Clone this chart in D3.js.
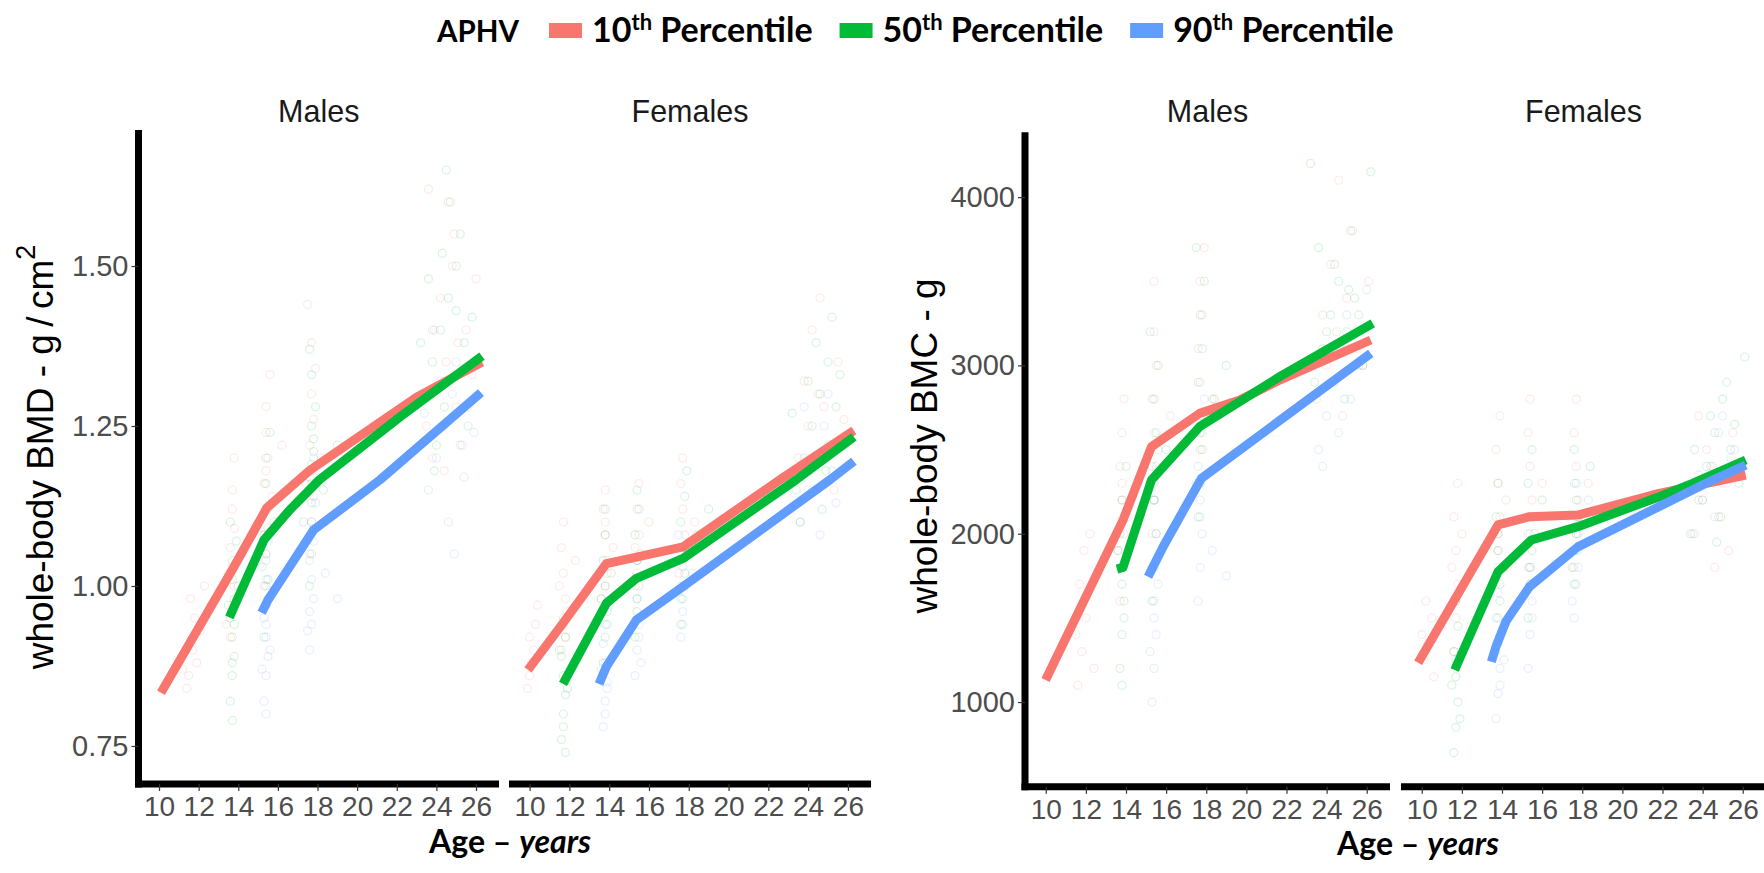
<!DOCTYPE html>
<html><head><meta charset="utf-8">
<script src="https://cdn.jsdelivr.net/npm/d3@7"></script>
<style>
body{margin:0;background:#fff;}
svg{display:block;}
</style></head><body>
<svg id="c" width="1764" height="873"></svg>
<script>
// ---------------- DATA ----------------
const legendTitle = "APHV";
const percentiles = ["10", "50", "90"];
const panelLabels = ["Males", "Females"];
const xTicks = [10, 12, 14, 16, 18, 20, 22, 24, 26];
const bmdTicks = [0.75, 1.00, 1.25, 1.50];
const bmcTicks = [1000, 2000, 3000, 4000];

// model lines [age, value]
const bmdMaleLine10 = [[10.1,0.833],[13.75,1.028],[15.44,1.122],[17.62,1.181],[23.0,1.295],[26.3,1.350]];
const bmdMaleLine50 = [[13.55,0.951],[14.4,1.010],[15.3,1.072],[16.6,1.119],[18.1,1.166],[22.2,1.265],[26.3,1.359]];
const bmdMaleLine90 = [[15.18,0.958],[15.5,0.978],[15.94,0.999],[17.8,1.0875],[21.16,1.166],[26.25,1.302]];
const bmdFemaleLine10 = [[9.92,0.869],[11.68,0.942],[13.86,1.035],[15.37,1.045],[17.71,1.061],[22.58,1.166],[26.3,1.243]];
const bmdFemaleLine50 = [[11.68,0.847],[13.86,0.973],[15.37,1.012],[17.71,1.043],[23.4,1.166],[26.3,1.233]];
const bmdFemaleLine90 = [[13.49,0.847],[13.86,0.874],[15.37,0.947],[17.71,0.999],[25.1,1.166],[26.3,1.195]];
const bmcMaleLine10 = [[9.99,1131],[13.85,2081],[15.27,2517],[17.67,2715],[19.67,2794],[21.66,2913],[26.2,3151]];
const bmcMaleLine50 = [[13.55,1790],[13.85,1800],[15.27,2319],[17.67,2636],[21.66,2933],[26.3,3250]];
const bmcMaleLine90 = [[15.1,1744],[15.85,1923],[17.76,2329],[26.2,3072]];
const bmcFemaleLine10 = [[9.82,1233],[13.8,2052],[15.37,2101],[17.78,2111],[21.84,2240],[26.15,2349]];
const bmcFemaleLine50 = [[11.64,1190],[13.8,1774],[15.46,1963],[17.78,2042],[21.84,2220],[23.5,2299],[26.15,2438]];
const bmcFemaleLine90 = [[13.47,1239],[13.7,1330],[14.2,1480],[15.37,1685],[17.78,1922],[24.5,2319],[26.15,2408]];

// observed points [age, value]
const bmdMaleScatter10 = [[11.5,0.86],[11.7,0.90],[11.8,0.95],[11.6,0.98],[11.9,0.88],[12.1,0.93],[11.4,0.84],[12.3,1.00],[11.2,0.87],[12.6,0.97],
 [13.6,0.92],[13.7,0.96],[13.8,1.00],[13.7,1.03],[13.6,1.06],[13.8,1.09],[13.7,1.12],[13.9,0.98],[13.5,1.02],[13.7,1.15],[13.8,1.20],[14.2,1.05],[13.4,0.94],
 [15.3,1.00],[15.4,1.05],[15.5,1.09],[15.4,1.12],[15.3,1.16],[15.5,1.20],[15.4,1.24],[15.4,1.28],[15.6,1.33],[15.2,1.08],[15.4,1.18],[15.7,1.14],[16.2,1.22],
 [17.6,1.05],[17.7,1.10],[17.8,1.14],[17.7,1.18],[17.6,1.22],[17.8,1.26],[17.7,1.30],[17.9,1.34],[17.7,1.38],[17.5,1.44],[18.2,1.20],[17.4,1.16],
 [23.5,1.25],[24.0,1.30],[24.5,1.35],[25.0,1.28],[25.5,1.40],[24.2,1.45],[24.8,1.50],[23.8,1.20],[25.3,1.22],[26.0,1.48],[24.6,1.60],[23.6,1.62],[25.8,1.33],[24.4,1.18],[25.1,1.38],[24.9,1.55],[23.9,1.40]];
const bmdMaleScatter50 = [[13.6,0.82],[13.7,0.86],[13.8,0.89],[13.7,0.92],[13.6,0.95],[13.8,0.98],[13.7,1.01],[13.7,1.04],[13.9,1.07],[13.6,1.10],[13.7,0.88],[13.8,0.94],[14.0,1.00],[13.5,0.97],[13.7,0.79],
 [15.3,0.92],[15.4,0.97],[15.5,1.01],[15.4,1.05],[15.3,1.08],[15.5,1.12],[15.4,1.16],[15.4,1.20],[15.6,1.24],[15.2,1.03],[15.8,1.10],[15.4,1.00],[16.5,1.15],
 [17.6,1.00],[17.7,1.05],[17.8,1.09],[17.7,1.13],[17.6,1.17],[17.8,1.21],[17.7,1.25],[17.9,1.28],[17.7,1.33],[17.6,1.37],[18.3,1.15],[19.0,1.22],[17.3,1.10],[17.7,1.19],[17.8,1.23],
 [23.4,1.30],[23.8,1.35],[24.2,1.40],[24.6,1.45],[25.0,1.50],[25.4,1.38],[25.8,1.42],[24.4,1.28],[24.9,1.33],[23.6,1.48],[25.2,1.55],[24.0,1.22],[25.6,1.25],[24.7,1.60],[23.2,1.38],[26.1,1.35],[24.3,1.52],[25.0,1.43],[23.9,1.18],[24.5,1.65]];
const bmdMaleScatter90 = [[15.3,0.82],[15.4,0.86],[15.5,0.89],[15.4,0.92],[15.3,0.95],[15.5,0.98],[15.4,1.01],[15.4,1.04],[15.6,0.90],[15.2,0.87],[15.4,0.80],[15.5,1.07],[15.4,0.94],
 [17.6,0.90],[17.7,0.94],[17.8,0.98],[17.7,1.01],[17.6,1.04],[17.8,1.07],[17.7,1.10],[17.9,1.13],[17.7,1.16],[17.6,0.96],[18.4,1.02],[19.0,0.98],[17.5,0.93],[17.8,1.20],
 [23.6,1.15],[24.0,1.20],[24.4,1.25],[24.8,1.30],[25.2,1.22],[25.6,1.28],[24.6,1.10],[25.0,1.35],[23.8,1.40],[25.4,1.17],[24.2,1.32],[25.9,1.24],[24.9,1.05],[23.4,1.27]];
const bmdFemaleScatter10 = [[10.0,0.86],[10.2,0.90],[10.3,0.94],[10.1,0.88],[10.4,0.97],[10.0,0.92],[9.9,0.84],
 [11.6,0.90],[11.7,0.94],[11.8,0.98],[11.7,1.02],[11.6,1.06],[11.8,0.92],[11.7,1.10],[11.9,0.96],[12.3,1.04],[11.5,1.00],
 [13.7,0.96],[13.8,1.00],[13.9,1.04],[13.8,1.08],[13.7,1.12],[13.8,1.15],[13.9,1.02],[13.8,1.10],[14.2,1.06],[13.6,0.98],
 [15.3,1.00],[15.4,1.04],[15.5,1.08],[15.4,1.12],[15.3,1.06],[15.5,1.16],[15.4,1.02],[16.0,1.10],
 [17.6,1.00],[17.7,1.04],[17.8,1.08],[17.7,1.12],[17.6,1.16],[17.8,1.06],[17.7,1.20],[18.3,1.10],[17.5,1.02],
 [23.5,1.20],[24.0,1.25],[24.5,1.30],[25.0,1.22],[25.5,1.35],[24.2,1.40],[24.8,1.28],[25.3,1.15],[23.8,1.32],[24.6,1.45],[25.8,1.26]];
const bmdFemaleScatter50 = [[11.6,0.76],[11.7,0.80],[11.8,0.83],[11.7,0.86],[11.6,0.89],[11.8,0.92],[11.7,0.95],[11.9,0.84],[11.7,0.78],[11.5,0.90],[11.8,0.74],
 [13.7,0.88],[13.8,0.92],[13.9,0.96],[13.8,1.00],[13.7,1.04],[13.8,1.08],[13.9,0.94],[13.8,1.12],[13.6,0.98],[14.1,1.02],
 [15.3,0.92],[15.4,0.96],[15.5,1.00],[15.4,1.04],[15.3,1.08],[15.5,1.12],[15.4,0.98],[15.6,1.05],[15.4,1.15],[16.0,1.02],
 [17.6,0.94],[17.7,0.98],[17.8,1.02],[17.7,1.06],[17.6,1.10],[17.8,1.14],[17.7,1.00],[17.9,1.18],[18.4,1.08],[17.5,1.04],[19.0,1.12],
 [23.4,1.15],[23.8,1.20],[24.2,1.25],[24.6,1.30],[25.0,1.35],[25.4,1.28],[25.8,1.22],[24.4,1.38],[24.9,1.18],[23.6,1.10],[25.2,1.42],[24.0,1.32],[25.6,1.33],[24.7,1.12],[23.2,1.27]];
const bmdFemaleScatter90 = [[13.7,0.78],[13.8,0.82],[13.9,0.85],[13.8,0.88],[13.7,0.91],[13.8,0.94],[13.9,0.84],[13.8,0.80],[13.6,0.87],[14.0,0.97],
 [15.3,0.86],[15.4,0.90],[15.5,0.94],[15.4,0.98],[15.3,1.01],[15.5,0.92],[15.4,1.04],[15.6,0.88],
 [17.6,0.92],[17.7,0.96],[17.8,1.00],[17.7,1.03],[17.6,0.98],[17.8,1.06],[17.7,0.94],[18.2,1.02],[17.5,1.08],
 [23.6,1.10],[24.0,1.15],[24.4,1.20],[24.8,1.25],[25.2,1.18],[25.6,1.22],[24.6,1.08],[25.0,1.30],[23.8,1.28],[25.4,1.13]];
const bmcMaleScatter10 = [[11.6,1100],[11.8,1300],[12.0,1500],[11.7,1700],[11.9,1900],[12.2,2000],[11.5,1400],[12.4,1200],
 [13.7,1600],[13.8,1800],[13.9,2000],[13.8,2200],[13.7,2400],[13.8,2600],[13.9,2800],[13.8,2300],[14.1,2100],[13.6,1900],
 [15.3,2000],[15.4,2200],[15.5,2400],[15.4,2600],[15.3,2800],[15.5,3000],[15.4,3200],[15.4,3500],[15.6,2500],[16.2,2700],[15.2,2300],
 [17.6,2300],[17.7,2500],[17.8,2700],[17.7,2900],[17.6,3100],[17.8,3300],[17.7,3500],[17.9,3700],[18.3,2800],[17.5,2600],
 [23.5,2800],[24.0,3000],[24.5,3200],[25.0,3400],[25.5,3100],[24.2,3600],[24.8,2700],[25.3,3800],[23.8,3300],[24.6,4100],[25.8,3000],[26.1,3500]];
const bmcMaleScatter50 = [[13.7,1200],[13.8,1400],[13.9,1600],[13.8,1800],[13.7,2000],[13.8,2200],[13.9,1500],[13.8,1700],[13.6,1900],[13.8,1100],[14.0,2400],
 [15.3,1600],[15.4,1800],[15.5,2000],[15.4,2200],[15.3,2400],[15.5,2600],[15.4,2800],[15.6,3000],[15.4,2300],[16.0,2500],[15.2,3200],
 [17.6,2100],[17.7,2300],[17.8,2500],[17.7,2700],[17.6,2900],[17.8,3100],[17.7,3300],[17.9,3500],[17.7,2600],[18.4,2800],[19.0,3000],[17.5,3700],
 [23.4,2900],[23.8,3100],[24.2,3300],[24.6,3500],[25.0,3200],[25.4,3400],[25.8,3000],[24.4,3600],[24.9,2800],[23.6,3700],[25.2,3800],[24.0,3200],[25.6,3300],[24.7,3100],[26.2,4150],[23.2,4200],[25.1,3450]];
const bmcMaleScatter90 = [[15.3,1000],[15.4,1200],[15.5,1400],[15.4,1600],[15.3,1800],[15.5,2000],[15.4,1500],[15.6,1700],[15.4,2200],[15.2,1300],
 [17.6,1600],[17.7,1800],[17.8,2000],[17.7,2200],[17.6,2400],[17.8,2600],[17.7,2100],[18.3,1900],[17.5,2300],[19.0,1750],[17.9,2800],
 [23.6,2500],[24.0,2700],[24.4,2900],[24.8,3100],[25.2,2800],[25.6,3000],[24.6,2600],[25.0,3300],[23.8,2400],[25.4,3200],[26.0,3450]];
const bmcFemaleScatter10 = [[10.1,1250],[10.3,1350],[10.5,1500],[10.2,1600],[10.6,1150],[10.0,1400],
 [11.6,1300],[11.7,1500],[11.8,1700],[11.7,1900],[11.6,2100],[11.8,2300],[11.7,1600],[12.0,2000],[11.5,1800],
 [13.7,1700],[13.8,1900],[13.9,2100],[13.8,2300],[13.7,2500],[13.8,2000],[13.9,2700],[14.2,2200],
 [15.3,1800],[15.4,2000],[15.5,2200],[15.4,2400],[15.3,2600],[15.5,2100],[15.4,2800],[16.0,2300],
 [17.6,1800],[17.7,2000],[17.8,2200],[17.7,2400],[17.6,2600],[17.8,2100],[17.7,2800],[18.3,2300],
 [23.5,2000],[24.0,2200],[24.5,2400],[25.0,2300],[25.5,2600],[24.2,2500],[24.8,2100],[25.3,1900],[23.8,2700],[24.6,1800],[25.8,2350]];
const bmcFemaleScatter50 = [[11.6,700],[11.7,850],[11.8,1000],[11.7,1150],[11.6,1300],[11.8,1450],[11.7,1600],[11.9,900],[11.7,1250],[11.5,1100],
 [13.7,1300],[13.8,1500],[13.9,1700],[13.8,1900],[13.7,2100],[13.8,2300],[13.9,1600],[13.8,2000],[14.1,1800],
 [15.3,1500],[15.4,1700],[15.5,1900],[15.4,2100],[15.3,2300],[15.5,2500],[15.4,1800],[15.6,2000],[16.0,2200],
 [17.6,1700],[17.7,1900],[17.8,2100],[17.7,2300],[17.6,2500],[17.8,2000],[17.7,2200],[18.4,2400],[19.0,2100],[17.5,1800],
 [23.4,2000],[23.8,2200],[24.2,2400],[24.6,2600],[25.0,2800],[25.4,2500],[25.8,2300],[24.4,2700],[24.9,2100],[23.6,2500],[25.2,2900],[24.0,2300],[25.6,2650],[26.1,3050],[24.7,1950]];
const bmcFemaleScatter90 = [[13.7,900],[13.8,1050],[13.9,1200],[13.8,1350],[13.7,1500],[13.8,1650],[13.9,1100],[13.8,1800],[14.1,1250],
 [15.3,1200],[15.4,1400],[15.5,1600],[15.4,1800],[15.3,2000],[15.5,1500],[15.4,1700],[15.6,2100],
 [17.6,1500],[17.7,1700],[17.8,1900],[17.7,2100],[17.6,2300],[17.8,1800],[17.7,2000],[18.3,2200],[17.5,1600],
 [23.6,2000],[24.0,2200],[24.4,2400],[24.8,2600],[25.2,2300],[25.6,2500],[24.6,2100],[25.0,2700],[23.8,2350],[25.4,2450]];

// ---------------- DRAWING ----------------
const colors = {"10": "#F8766D", "50": "#00BA38", "90": "#619CFF"};
const svg = d3.select("#c");
const tickFont = "'Liberation Sans', Arial, sans-serif";
const boldFont = "Lato, 'Open Sans', sans-serif";

const plots = [
  {
    yDomain: [0.6906, 1.7125], yRange: [784, 130], ticks: bmdTicks, fmt: d3.format(".2f"),
    panels: [
      {x0: 138.5, x1: 499, lines: [bmdMaleLine10, bmdMaleLine50, bmdMaleLine90], pts: [bmdMaleScatter10, bmdMaleScatter50, bmdMaleScatter90]},
      {x0: 509, x1: 871, lines: [bmdFemaleLine10, bmdFemaleLine50, bmdFemaleLine90], pts: [bmdFemaleScatter10, bmdFemaleScatter50, bmdFemaleScatter90]}
    ],
    titleX: 53, titleY: 457, ySup: true, xTitleX: 510, xTitleY: 853
  },
  {
    yDomain: [497, 4385], yRange: [786.7, 132.3], ticks: bmcTicks, fmt: d3.format("d"),
    panels: [
      {x0: 1025, x1: 1390, lines: [bmcMaleLine10, bmcMaleLine50, bmcMaleLine90], pts: [bmcMaleScatter10, bmcMaleScatter50, bmcMaleScatter90]},
      {x0: 1401, x1: 1766, lines: [bmcFemaleLine10, bmcFemaleLine50, bmcFemaleLine90], pts: [bmcFemaleScatter10, bmcFemaleScatter50, bmcFemaleScatter90]}
    ],
    titleX: 937, titleY: 446, ySup: false, xTitleX: 1418, xTitleY: 855
  }
];

plots.forEach((p, pi) => {
  const y = d3.scaleLinear().domain(p.yDomain).range(p.yRange);
  const yBottom = p.yRange[0];
  p.panels.forEach((pan, k) => {
    const x = d3.scaleLinear().domain([8.965, 27.16]).range([pan.x0, pan.x1]);
    const g = svg.append("g");
    pan.pts.forEach((arr, ci) => {
      g.append("g").selectAll("circle").data(arr).join("circle")
        .attr("cx", d => x(d[0])).attr("cy", d => y(d[1])).attr("r", 4)
        .attr("fill", "none").attr("stroke", colors[percentiles[ci]])
        .attr("stroke-opacity", 0.16).attr("stroke-width", 1.2);
    });
    const line = d3.line().x(d => x(d[0])).y(d => y(d[1]));
    pan.lines.forEach((arr, ci) => {
      g.append("path").datum(arr).attr("d", line)
        .attr("fill", "none").attr("stroke", colors[percentiles[ci]])
        .attr("stroke-width", 9).attr("stroke-linejoin", "round").attr("stroke-linecap", "butt");
    });
    svg.append("line")
      .attr("x1", k === 0 ? pan.x0 - 3.5 : pan.x0).attr("x2", pan.x1)
      .attr("y1", yBottom).attr("y2", yBottom)
      .attr("stroke", "#000").attr("stroke-width", 7);
    const xa = svg.append("g").attr("transform", `translate(0,${yBottom})`)
      .call(d3.axisBottom(x).tickValues(xTicks).tickSize(7).tickPadding(5).tickSizeOuter(0));
    xa.select(".domain").remove();
    xa.selectAll(".tick line").attr("stroke", "#333").attr("stroke-width", 1.2);
    xa.selectAll(".tick text").attr("fill", "#4D4D4D").style("font-family", tickFont).style("font-size", "28px");
    svg.append("text").attr("x", (pan.x0 + pan.x1) / 2).attr("y", 122)
      .attr("text-anchor", "middle").attr("fill", "#1A1A1A")
      .style("font-family", tickFont).style("font-size", "30.5px").text(panelLabels[k]);
    if (k === 0) {
      svg.append("line").attr("x1", pan.x0).attr("x2", pan.x0)
        .attr("y1", p.yRange[1]).attr("y2", yBottom + 3.5)
        .attr("stroke", "#000").attr("stroke-width", 7);
      const ya = svg.append("g").attr("transform", `translate(${pan.x0},0)`)
        .call(d3.axisLeft(y).tickValues(p.ticks).tickFormat(p.fmt).tickSize(7).tickPadding(3).tickSizeOuter(0));
      ya.select(".domain").remove();
      ya.selectAll(".tick line").attr("stroke", "#333").attr("stroke-width", 1.2);
      ya.selectAll(".tick text").attr("fill", "#4D4D4D").style("font-family", tickFont).style("font-size", "29px");
    }
  });
  const yt = svg.append("text").attr("transform", `translate(${p.titleX},${p.titleY}) rotate(-90)`)
    .attr("text-anchor", "middle").attr("fill", "#000")
    .style("font-family", tickFont).style("font-size", "37px");
  if (p.ySup) {
    yt.append("tspan").text("whole-body BMD - g\u2009/\u2009cm");
    yt.append("tspan").attr("dy", -18).style("font-size", "27px").text("2");
  } else {
    yt.text("whole-body BMC - g");
  }
  const xt = svg.append("text").attr("x", p.xTitleX).attr("y", p.xTitleY)
    .attr("text-anchor", "middle").attr("fill", "#000")
    .style("font-family", boldFont).style("font-weight", 700).style("font-size", "32px");
  xt.append("tspan").text("Age \u2013 ");
  xt.append("tspan").style("font-style", "italic").text("years");
});

// ---------------- LEGEND ----------------
const lg = svg.append("g");
const legFs = 34;
lg.append("text").attr("x", 437).attr("y", 42).attr("fill", "#000")
  .style("font-family", boldFont).style("font-weight", 700).style("font-size", "29.5px").text(legendTitle);
let cx = 549;
percentiles.forEach(pc => {
  lg.append("rect").attr("x", cx).attr("y", 23).attr("width", 33).attr("height", 15).attr("fill", colors[pc]);
  const t = lg.append("text").attr("x", cx + 43).attr("y", 42).attr("fill", "#000")
    .style("font-family", boldFont).style("font-weight", 700).style("font-size", legFs + "px");
  t.append("tspan").text(pc);
  t.append("tspan").attr("dy", -12).style("font-size", "22px").text("th");
  t.append("tspan").attr("dy", 12).text(" Percentile");
  const w = t.node().getComputedTextLength();
  cx = cx + 43 + w + 27;
});
</script>
</body></html>
